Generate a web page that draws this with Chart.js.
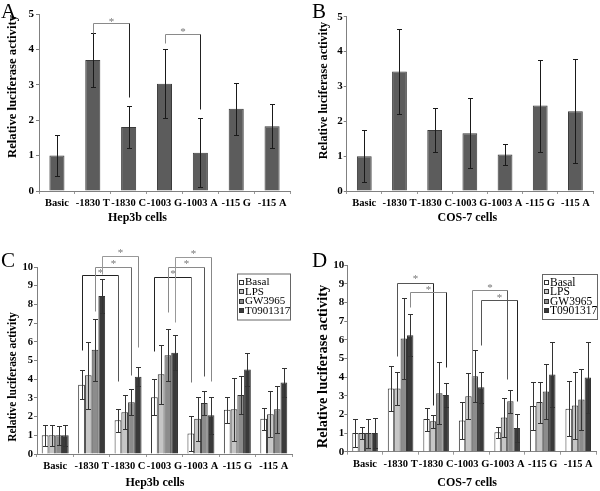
<!DOCTYPE html>
<html>
<head>
  <title>Relative luciferase activity</title>
  <script src="https://cdn.jsdelivr.net/npm/chart.js"></script>
  <style>
    body { margin: 0; background: #fff; }
    #fig { position: relative; width: 600px; height: 491px; background: #fff; }
    .panel { position: absolute; }
    .letter { position: absolute; font-family: "Liberation Serif", serif; font-size: 21px; line-height: 1; color: #000; }
  </style>
</head>
<body>
<div id="fig">
  <div class="panel" style="left:0;top:0;width:300px;height:245px"><canvas id="chartA"></canvas></div>
  <div class="panel" style="left:300px;top:0;width:300px;height:245px"><canvas id="chartB"></canvas></div>
  <div class="panel" style="left:0;top:245px;width:300px;height:246px"><canvas id="chartC"></canvas></div>
  <div class="panel" style="left:300px;top:245px;width:300px;height:246px"><canvas id="chartD"></canvas></div>
  <div class="letter" style="left:1px;top:1px">A</div>
  <div class="letter" style="left:312px;top:1px">B</div>
  <div class="letter" style="left:1px;top:250px">C</div>
  <div class="letter" style="left:312px;top:250px">D</div>
</div>

<script>
  const categories = ["Basic", "-1830 T", "-1830 C", "-1003 G", "-1003 A", "-115 G", "-115 A"];
  const treatments = ["Basal", "LPS", "GW3965", "T0901317"];

  // panel A: Hep3b, promoter constructs only
  const hep3bMean = [1.0, 3.70, 1.81, 3.03, 1.08, 2.32, 1.83];
  const hep3bErr  = [0.57, 0.76, 0.60, 0.98, 0.97, 0.73, 0.62];

  // panel B: COS-7, promoter constructs only
  const cosMean = [1.0, 3.43, 1.75, 1.66, 1.05, 2.45, 2.29];
  const cosErr  = [0.75, 1.22, 0.64, 1.00, 0.31, 1.32, 1.50];

  // panel C: Hep3b with treatments
  const hepBasal = [1.0, 3.70, 1.80, 3.03, 1.10, 2.36, 1.88];
  const hepLPS   = [1.0, 4.21, 2.23, 4.26, 1.88, 2.39, 2.13];
  const hepGW    = [1.0, 5.57, 2.77, 5.28, 2.73, 3.16, 2.39];
  const hepT09   = [1.0, 8.45, 4.13, 5.42, 2.07, 4.52, 3.82];
  const hepBasalErr = [0.56, 0.77, 0.61, 0.97, 0.95, 0.70, 0.60];
  const hepLPSErr   = [0.56, 1.80, 0.91, 1.57, 1.16, 1.70, 1.23];
  const hepGWErr    = [0.52, 1.66, 0.69, 1.39, 0.65, 1.03, 1.25];
  const hepT09Err   = [0.56, 0.93, 0.52, 0.94, 0.99, 0.87, 0.77];

  // panel D: COS-7 with treatments
  const cosBasal = [1.0, 3.39, 1.75, 1.68, 1.05, 2.45, 2.30];
  const cosLPS   = [1.0, 3.39, 1.63, 2.98, 1.84, 2.66, 2.48];
  const cosGW    = [1.0, 6.07, 3.14, 4.05, 2.71, 3.23, 2.80];
  const cosT09   = [1.0, 6.25, 3.04, 3.46, 1.27, 4.14, 3.98];
  const cosBasalErr = [0.75, 1.23, 0.62, 0.98, 0.30, 1.30, 1.48];
  const cosLPSErr   = [0.34, 0.91, 0.35, 1.23, 1.03, 1.10, 1.80];
  const cosGWErr    = [0.78, 2.17, 1.66, 1.40, 0.62, 1.50, 1.62];
  const cosT09Err   = [0.79, 1.13, 0.62, 0.83, 0.73, 1.72, 1.88];

  // significance brackets: [fromCat, toCat, dataset, top, leftEnd, rightEnd, star, colour, rightColour]
  const bracketsA = [
    [1, 2, 0, 4.74, 4.45, 2.66, 4.84, "#8a8a8a", "#222"],
    [3, 4, 0, 4.43, 4.17, 2.33, 4.55, "#8a8a8a", "#222"]
  ];
  const bracketsC = [
    [1, 2, 0, 9.55, 5.54, 3.88, 9.79, "#222", "#555"],
    [1, 2, 2, 10.0, 7.66, 4.21, 10.27, "#8a8a8a", "#666"],
    [1, 2, 3, 10.57, 9.6, 5.71, 10.86, "#999", "#888"],
    [3, 4, 0, 9.48, 5.52, 3.87, 9.75, "#222", "#777"],
    [3, 4, 2, 9.98, 7.61, 4.17, 10.28, "#8a8a8a", "#555"],
    [3, 4, 3, 10.55, 7.07, 3.9, 10.82, "#999", "#888"]
  ];
  const bracketsD = [
    [1, 2, 1, 9.07, 5.13, 2.5, 9.34, "#555", "#222"],
    [1, 2, 3, 8.58, 7.78, 4.56, 8.8, "#8a8a8a", "#222"],
    [3, 4, 1.5, 8.67, 3.95, 3.9, 8.9, "#8a8a8a", "#555"],
    [3, 4, 3, 8.14, 5.72, 2.7, 8.37, "#555", "#222"]
  ];

  const serif = "'Liberation Serif', 'Times New Roman', serif";

  function barX(chart, ds, cat) {
    const lo = Math.floor(ds), hi = Math.ceil(ds);
    const a = chart.getDatasetMeta(lo).data[cat].x;
    const b = chart.getDatasetMeta(hi).data[cat].x;
    return a + (b - a) * (ds - lo);
  }

  const extras = {
    id: "extras",
    afterDatasetsDraw(chart, args, opts) {
      const ctx = chart.ctx;
      const y = chart.scales.y;
      const px = v => Math.round(y.getPixelForValue(v)) + 0.5;

      // error bars
      (opts.errors || []).forEach((errs, di) => {
        const meta = chart.getDatasetMeta(di);
        const vals = chart.data.datasets[di].data;
        ctx.save();
        ctx.strokeStyle = opts.errColor;
        ctx.lineWidth = 1;
        meta.data.forEach((bar, i) => {
          const x = Math.round(bar.x) + 0.5;
          const t = px(vals[i] + errs[i]);
          const b = px(Math.max(0, vals[i] - errs[i]));
          ctx.beginPath();
          ctx.moveTo(x, t); ctx.lineTo(x, b);
          ctx.moveTo(x - 2.5, t); ctx.lineTo(x + 2.5, t);
          ctx.moveTo(x - 2.5, b); ctx.lineTo(x + 2.5, b);
          ctx.stroke();
        });
        ctx.restore();
      });

      // brackets with stars
      (opts.brackets || []).forEach(([c1, c2, ds, top, l, r, star, col, rcol]) => {
        const x1 = Math.round(barX(chart, ds, c1)) + 0.5;
        const x2 = Math.round(barX(chart, ds, c2)) + 0.5;
        const yt = px(top);
        ctx.save();
        ctx.lineWidth = 1;
        ctx.strokeStyle = col;
        ctx.beginPath();
        ctx.moveTo(x1, px(l)); ctx.lineTo(x1, yt); ctx.lineTo(x2, yt);
        ctx.stroke();
        ctx.strokeStyle = rcol;
        ctx.beginPath();
        ctx.moveTo(x2, yt); ctx.lineTo(x2, px(r));
        ctx.stroke();
        ctx.fillStyle = "#777";
        ctx.font = "11px " + serif;
        ctx.textAlign = "center";
        ctx.textBaseline = "middle";
        ctx.fillText("*", (x1 + x2) / 2, y.getPixelForValue(star) + 2);
        ctx.restore();
      });
    },
    afterDraw(chart, args, opts) {
      const ctx = chart.ctx;
      const area = chart.chartArea;
      ctx.save();
      ctx.fillStyle = "#000";
      ctx.textAlign = "center";
      ctx.textBaseline = "middle";

      // axis titles
      ctx.font = "bold 12px " + serif;
      ctx.fillText(opts.xTitle, (area.left + area.right) / 2 + opts.xDx, opts.xY);
      ctx.save();
      ctx.translate(opts.yX, opts.yY);
      ctx.rotate(-Math.PI / 2);
      ctx.font = "bold " + opts.ySize + "px " + serif;
      ctx.fillText("Relative luciferase activity", 0, 0);
      ctx.restore();

      // legend box
      const lg = opts.legend;
      if (lg) {
        ctx.strokeStyle = "#666";
        ctx.lineWidth = 1;
        ctx.strokeRect(lg.left + 0.5, lg.top + 0.5, lg.width, lg.height);
        ctx.textAlign = "left";
        ctx.font = lg.size + "px " + serif;
        chart.data.datasets.forEach((d, i) => {
          const ry = lg.top + lg.first + i * lg.gap;
          ctx.fillStyle = d.backgroundColor;
          ctx.fillRect(lg.left + 2.5, Math.round(ry) - 2.5, 4, 4);
          ctx.strokeStyle = "#333";
          ctx.strokeRect(lg.left + 2.5, Math.round(ry) - 2.5, 4, 4);
          ctx.fillStyle = "#000";
          ctx.fillText(d.label, lg.left + 8, ry);
        });
      }
      ctx.restore();
    }
  };

  function makeChart(id, p) {
    return new Chart(document.getElementById(id), {
      type: "bar",
      data: { labels: categories, datasets: p.datasets },
      options: {
        responsive: true,
        maintainAspectRatio: false,
        animation: false,
        events: [],
        layout: { padding: { top: p.top, right: p.right, left: 0, bottom: 0 } },
        plugins: {
          legend: { display: false },
          tooltip: { enabled: false },
          extras: p.extras
        },
        scales: {
          x: {
            grid: { drawOnChartArea: false, offset: true, tickLength: 3, color: "#999" },
            border: { color: "#808080" },
            ticks: { color: "#000", font: { family: serif, size: p.xFont, weight: "bold" }, padding: 3, autoSkip: false, maxRotation: 0, minRotation: 0 },
            afterFit: s => { s.height = p.xh; }
          },
          y: {
            min: 0,
            max: p.max,
            grid: { drawOnChartArea: false, tickLength: 3, color: "#808080" },
            border: { color: "#808080" },
            ticks: { stepSize: 1, color: "#000", font: { family: serif, size: p.yFont, weight: "bold" }, padding: p.yPad },
            afterFit: s => { s.width = p.yw; }
          }
        }
      },
      plugins: [extras]
    });
  }

  function single(vals) {
    return [{ label: "Activity", data: vals, backgroundColor: "#5c5c5c", borderColor: "#3a3a3a", borderWidth: 1, barPercentage: 0.42, categoryPercentage: 1 }];
  }

  function grouped(sets, pct) {
    const fills = ["#ffffff", "#c6c6c6", "#8c8c8c", "#3a3a3a"];
    return sets.map((vals, i) => ({
      label: treatments[i], data: vals, backgroundColor: fills[i], borderColor: "#333",
      borderWidth: 1, barPercentage: 1, categoryPercentage: pct
    }));
  }

  makeChart("chartA", {
    datasets: single(hep3bMean), max: 5, top: 14, right: 10, xh: 54, yw: 39, yPad: 2, xFont: 10.5, yFont: 11,
    extras: { errors: [hep3bErr], errColor: "#1a1a1a", brackets: bracketsA,
      xTitle: "Hep3b cells", xDx: -27, xY: 218, yX: 12.5, yY: 86.5, ySize: 12.7 }
  });

  makeChart("chartB", {
    datasets: single(cosMean), max: 5, top: 16.7, right: 7, xh: 54, yw: 46.7, yPad: 1, xFont: 10.5, yFont: 11,
    extras: { errors: [cosErr], errColor: "#1a1a1a",
      xTitle: "COS-7 cells", xDx: -2.5, xY: 218, yX: 24, yY: 90.5, ySize: 12.2 }
  });

  makeChart("chartC", {
    datasets: grouped([hepBasal, hepLPS, hepGW, hepT09], 0.74), max: 10, top: 22, right: 8, xh: 37, yw: 37, yPad: 1, xFont: 10.5, yFont: 10.5,
    extras: { errors: [hepBasalErr, hepLPSErr, hepGWErr, hepT09Err], errColor: "#333", brackets: bracketsC,
      xTitle: "Hep3b cells", xDx: -9.5, xY: 238, yX: 13, yY: 132, ySize: 11.5,
      legend: { left: 237, top: 28.5, width: 53, height: 46, first: 9, gap: 9.5, size: 11 } }
  });

  makeChart("chartD", {
    datasets: grouped([cosBasal, cosLPS, cosGW, cosT09], 0.72), max: 10, top: 20.3, right: 4, xh: 39.3, yw: 47.3, yPad: 0, xFont: 10.5, yFont: 11,
    extras: { errors: [cosBasalErr, cosLPSErr, cosGWErr, cosT09Err], errColor: "#333", brackets: bracketsD,
      xTitle: "COS-7 cells", xDx: -4.5, xY: 238, yX: 23.5, yY: 121.5, ySize: 14.5,
      legend: { left: 242, top: 29, width: 55, height: 45, first: 8.5, gap: 9.5, size: 11.5 } }
  });
</script>
</body>
</html>
